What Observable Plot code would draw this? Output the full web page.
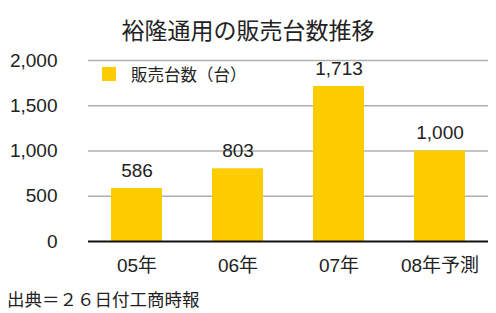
<!DOCTYPE html>
<html><head><meta charset="utf-8">
<script src="https://cdn.jsdelivr.net/npm/d3@7"></script>
<script src="https://cdn.jsdelivr.net/npm/@observablehq/plot@0.6"></script>
<style>
body{margin:0;background:#fff;}
#wrap{position:relative;width:496px;height:313px;font-family:"Liberation Sans","Noto Sans CJK JP",sans-serif;color:#222;}
#title{position:absolute;left:0;width:496px;top:12px;text-align:center;font-size:23px;font-family:"Noto Sans CJK JP",sans-serif;}
#caption{position:absolute;left:7px;top:286px;font-size:17.5px;font-family:"Noto Sans CJK JP",sans-serif;}
#legend{position:absolute;left:102px;top:62px;font-size:16.5px;font-family:"Noto Sans CJK JP",sans-serif;display:flex;align-items:center;}
#legend span.sw{display:inline-block;width:14px;height:14px;background:#FFCC00;margin-right:15px;}
</style></head>
<body><div id="wrap"></div>
<script>
const categories = ["05年","06年","07年","08年予測"];
const values = [586, 803, 1713, 1000];
const yTicks = [0, 500, 1000, 1500, 2000];
const seriesName = "販売台数（台）";
const title = "裕隆通用の販売台数推移";
const caption = "出典＝２６日付工商時報";

const data = categories.map((c,i)=>({cat:c, v:values[i]}));
const fmt = d3.format(",");
const wrap = document.getElementById("wrap");

const chart = Plot.plot({
  width: 496, height: 313,
  marginTop: 60, marginBottom: 72, marginLeft: 88, marginRight: 8,
  style: {fontFamily: '"Liberation Sans","Noto Sans CJK JP",sans-serif', fontSize: "19px", color: "#222", background: "transparent"},
  x: {domain: categories, paddingInner: 0.5, paddingOuter: 0.23, label: null, tickSize: 0, tickPadding: 17},
  y: {domain: [0, 2000], ticks: yTicks, tickFormat: fmt, label: null, tickSize: 0, tickPadding: 31},
  marks: [
    Plot.gridY(yTicks.filter(t=>t>0), {stroke: "#b0b0b0", strokeOpacity: 1, strokeWidth: 1.5}),
    Plot.barY(data, {x: "cat", y: "v", fill: "#FFCC00"}),
    Plot.ruleY([0], {stroke: "#111", strokeWidth: 2}),
    Plot.text(data, {x: "cat", y: "v", text: d=>fmt(d.v), dy: -18, fontSize: 19, fill: "#222"})
  ]
});
wrap.appendChild(chart);
const t = document.createElement("div"); t.id="title"; t.textContent=title; wrap.appendChild(t);
const c = document.createElement("div"); c.id="caption"; c.textContent=caption; wrap.appendChild(c);
const l = document.createElement("div"); l.id="legend"; l.innerHTML='<span class="sw"></span><span></span>'; l.lastChild.textContent=seriesName; wrap.appendChild(l);
</script></body></html>
